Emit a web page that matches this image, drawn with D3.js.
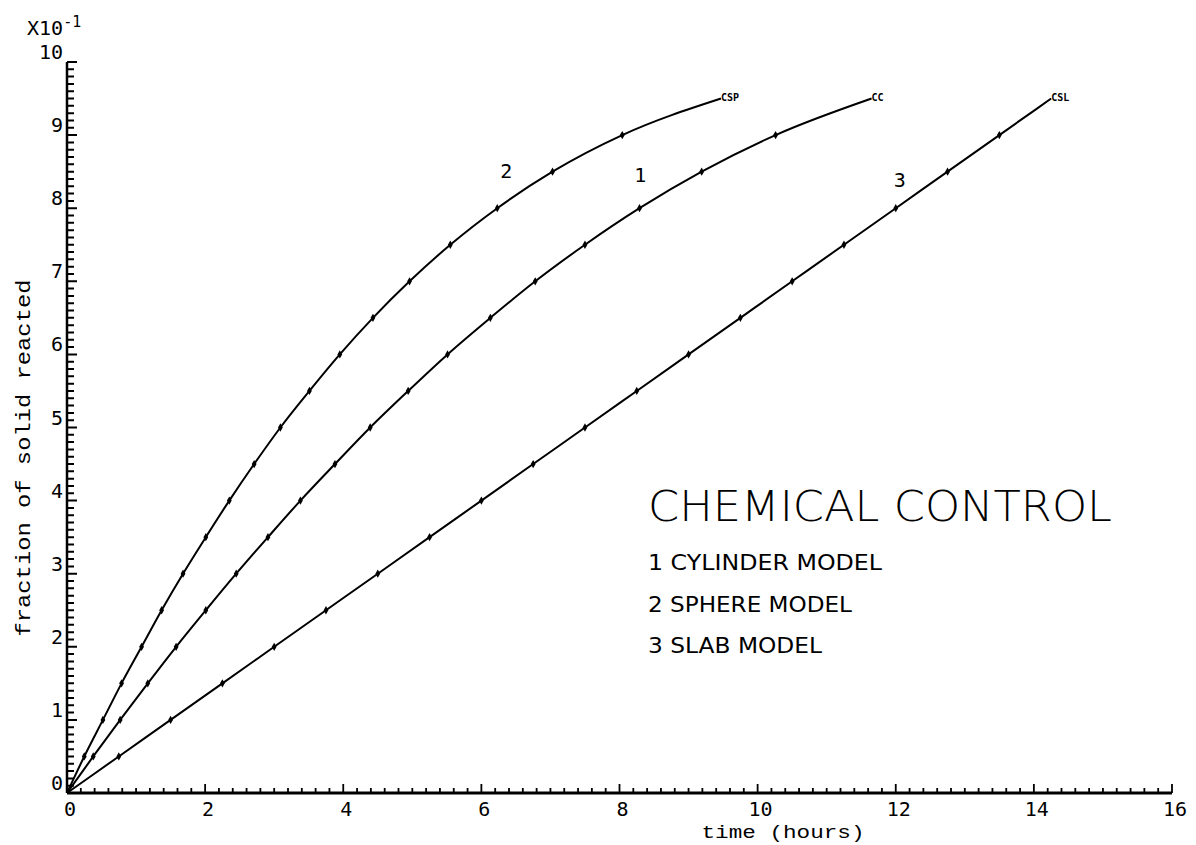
<!DOCTYPE html>
<html><head><meta charset="utf-8">
<script src="https://cdn.jsdelivr.net/npm/d3@7"></script>
<style>body{margin:0;background:#fff}svg{display:block}</style>
</head><body>
<svg id="c" width="1196" height="845"></svg>
<script>
// fraction reacted (x10^-1 units on axis)
const fractions = [0.5,1.0,1.5,2.0,2.5,3.0,3.5,4.0,4.5,5.0,5.5,6.0,6.5,7.0,7.5,8.0,8.5,9.0,9.5];
// time (hours) read for each fraction
const cylinderTimes = [0.38,0.77,1.17,1.58,2.01,2.45,2.91,3.38,3.88,4.39,4.94,5.51,6.13,6.78,7.50,8.29,9.19,10.26,11.65];
const sphereTimes   = [0.25,0.52,0.79,1.08,1.37,1.68,2.01,2.35,2.71,3.09,3.51,3.95,4.43,4.96,5.55,6.23,7.03,8.04,9.47];
const slabTimes     = [0.75,1.50,2.25,3.00,3.75,4.50,5.25,6.00,6.75,7.50,8.25,9.00,9.75,10.50,11.25,12.00,12.75,13.50,14.25];
const seriesNames = ["1","2","3"];
const endTags = ["CC","CSP","CSL"];
const legendTitle = "CHEMICAL CONTROL";
const legendItems = ["1 CYLINDER MODEL","2 SPHERE MODEL","3 SLAB MODEL"];
const xTicks = [0,2,4,6,8,10,12,14,16];
const yTicks = [0,1,2,3,4,5,6,7,8,9,10];
const curveLabelAt = [[8.3,8.36],[6.36,8.41],[12.06,8.29]]; // [t, y] positions of curve number labels

const svg = d3.select("#c");
const x = d3.scaleLinear().domain([0,16]).range([67,1172]);
const y = d3.scaleLinear().domain([0,10]).range([793,62]);
const mono = "'DejaVu Sans Mono', monospace";
const courier = "'Liberation Mono', 'Courier New', monospace";

const g = svg.append("g");

// y minor ticks (inside, to the right) drawn as one comb path
const yMinorVals = d3.range(0,101).map(d=>d/10);
const isInt = d => Math.abs(d-Math.round(d))<1e-6;
g.append("path").attr("fill","none").attr("stroke","#000").attr("stroke-width",2)
  .attr("d", yMinorVals.map(d=>`M${x(0)},${y(d)}H${x(0)+(isInt(d)?10:7)}`).join(""));

// x minor ticks (upward) as one comb path
const xMinorVals = d3.range(0,81).map(d=>d/5);
g.append("path").attr("fill","none").attr("stroke","#000").attr("stroke-width",1.8)
  .attr("d", xMinorVals.map(d=>`M${x(d)},${y(0)}V${y(0)-(isInt(d/2)?9:5)}`).join(""));

// axes lines
g.append("line").attr("x1",x(0)).attr("x2",x(16)).attr("y1",y(0)).attr("y2",y(0)).attr("stroke","#000").attr("stroke-width",3);
g.append("line").attr("x1",x(0)).attr("x2",x(0)).attr("y1",y(0)).attr("y2",y(10)).attr("stroke","#000").attr("stroke-width",2.5);

// tick labels
g.selectAll("text.xl").data(xTicks).enter().append("text").attr("class","xl")
  .attr("x",d=>x(d)+3).attr("y",y(0)+23).attr("text-anchor","middle")
  .attr("font-family",mono).attr("font-size",20).text(d=>d);
g.selectAll("text.yl").data(yTicks).enter().append("text").attr("class","yl")
  .attr("x",x(0)-4).attr("y",d=>y(d)-3).attr("text-anchor","end")
  .attr("font-family",mono).attr("font-size",20).text(d=>d);
// multiplier
const mult = g.append("text").attr("x",27).attr("y",35).attr("font-family",mono).attr("font-size",20);
mult.append("tspan").text("X10");
mult.append("tspan").attr("dy",-8).attr("font-size",15).text("-1");

// axis titles
g.append("text").attr("x",783).attr("y",838).attr("text-anchor","middle")
  .attr("font-family",courier).attr("font-size",19).attr("textLength",163).attr("lengthAdjust","spacingAndGlyphs")
  .text("time (hours)");
g.append("text").attr("transform","translate(30,458) rotate(-90)").attr("text-anchor","middle")
  .attr("font-family",courier).attr("font-size",21).attr("textLength",357).attr("lengthAdjust","spacingAndGlyphs")
  .text("fraction of solid reacted");

// curves
const allSeries = [cylinderTimes, sphereTimes, slabTimes];
const line = d3.line().x(d=>x(d[0])).y(d=>y(d[1])).curve(d3.curveMonotoneX);
allSeries.forEach((ts,i)=>{
  const pts = [[0,0]].concat(ts.map((t,j)=>[t,fractions[j]]));
  g.append("path").attr("d",line(pts)).attr("fill","none").attr("stroke","#000").attr("stroke-width",2);
  g.selectAll("path.mk"+i).data(pts.slice(1,-1)).enter().append("path").attr("class","mk"+i)
    .attr("d",d3.symbol().type(d3.symbolDiamond).size(20))
    .attr("transform",d=>`translate(${x(d[0])},${y(d[1])})`).attr("fill","#000");
  const last = pts[pts.length-1];
  g.append("text").attr("x",x(last[0])).attr("y",y(last[1])+2)
    .attr("font-family",mono).attr("font-size",10).attr("font-weight","bold").text(endTags[i]);
  g.append("text").attr("x",x(curveLabelAt[i][0])).attr("y",y(curveLabelAt[i][1]))
    .attr("text-anchor","middle").attr("font-family",mono).attr("font-size",20).text(seriesNames[i]);
});

// legend
g.append("text").attr("x",648).attr("y",521).attr("font-family","'DejaVu Sans', sans-serif")
  .attr("font-size",43).attr("font-weight",200).attr("textLength",464).attr("lengthAdjust","spacingAndGlyphs")
  .text(legendTitle);
const legW = [234,204,174];
g.selectAll("text.lg").data(legendItems).enter().append("text").attr("class","lg")
  .attr("x",648).attr("y",(d,i)=>570+i*41.5)
  .attr("font-family","'DejaVu Sans', sans-serif").attr("font-size",21)
  .attr("textLength",(d,i)=>legW[i]).attr("lengthAdjust","spacingAndGlyphs").text(d=>d);
</script>
</body></html>
